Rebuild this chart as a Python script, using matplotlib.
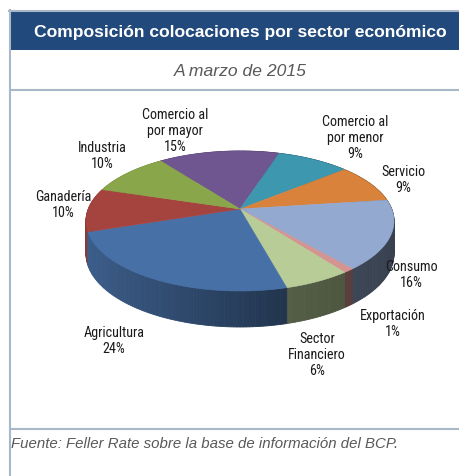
import matplotlib.pyplot as plt
import numpy as np
from matplotlib.patches import Polygon, Rectangle

# pie slices, clockwise from the top
sectors = ["Comercio al\npor mayor", "Comercio al\npor menor", "Servicio", "Consumo",
           "Exportación", "Sector\nFinanciero", "Agricultura", "Ganadería", "Industria"]
shares = [15, 9, 9, 16, 1, 6, 24, 10, 10]
colors = ["#6f5690", "#3d97ae", "#d8823b", "#93a9cf", "#d49491",
          "#b8cc97", "#4770a6", "#a5433f", "#8aa64b"]

title = "Composición colocaciones por sector económico"
subtitle = "A marzo de 2015"
source = "Fuente: Feller Rate sobre la base de información del BCP."

# layout (pixels)
W, H = 460, 477
label_xy = [(175, 131), (355, 138), (403, 180), (411, 275), (393, 324),
            (317, 355), (114, 341), (63, 205), (102, 156)]
CX, CY, RX, RY = 240, 222, 154, 70
TILT = -0.171      # perspective shift of the centre
START = -36.5      # degrees, clockwise from 12 o'clock
FRAME = "#a9b8c8"
NARROW = ["Roboto Condensed", "Liberation Sans", "DejaVu Sans"]


def project(theta, r=1.0, drop=0.0):
    t = np.radians(theta)
    u, v = r * np.sin(t), -r * np.cos(t)
    den = 1 + TILT * v
    x = CX + RX * u * np.sqrt(1 - TILT ** 2) / den
    y = CY + RY * (v + TILT) / den + drop * (32 + 4 * v)
    return x, y, u


def shade(hex_color, f):
    rgb = np.array([int(hex_color[i:i + 2], 16) for i in (1, 3, 5)]) / 255
    return tuple(np.clip(rgb * f, 0, 1))


fig = plt.figure(figsize=(W / 100, H / 100), dpi=100)
ax = fig.add_axes([0, 0, 1, 1])
ax.set_xlim(0, W)
ax.set_ylim(H, 0)
ax.axis("off")

# frame
ax.add_patch(Rectangle((10, 12), W - 10, 39, color="#22497c", lw=0))
ax.plot([9, W], [11.5, 11.5], color=FRAME, lw=1.5)
ax.plot([10, 10], [11, H], color=FRAME, lw=1.5)
ax.plot([10, W], [91, 91], color=FRAME, lw=1.5)
ax.plot([10, W], [430, 430], color=FRAME, lw=1.5)

ax.text(240, 32, title, color="white", fontsize=12.6, fontweight="bold",
        family=["Liberation Sans", "DejaVu Sans"], ha="center", va="center")
ax.text(240, 72, subtitle, color="#595959", fontsize=12.6, style="italic",
        family=["Liberation Sans", "DejaVu Sans"], ha="center", va="center")
ax.text(11, 444, source, color="#595959", fontsize=10.8, style="italic",
        family=["Liberation Sans", "DejaVu Sans"], ha="left", va="center")

bounds = START + 360 * np.concatenate([[0], np.cumsum(shares)]) / sum(shares)

# side wall, back to front
segs = []
for i, c in enumerate(colors):
    th = np.linspace(bounds[i], bounds[i + 1], max(3, int(bounds[i + 1] - bounds[i]) + 2))
    for a0, a1 in zip(th[:-1], th[1:]):
        segs.append((-np.cos(np.radians((a0 + a1) / 2)), a0, a1, c))
segs.sort(key=lambda s: s[0])
for _, a0, a1, c in segs:
    x0, y0, u0 = project(a0)
    x1, y1, u1 = project(a1)
    bx0, by0, _ = project(a0, drop=1)
    bx1, by1, _ = project(a1, drop=1)
    f = np.interp((u0 + u1) / 2, [-1, -0.3, 0.3, 1], [0.86, 0.65, 0.45, 0.38])
    col = shade(c, f)
    ax.add_patch(Polygon([(x0, y0), (x1, y1), (bx1, by1), (bx0, by0)],
                         closed=True, fc=col, ec=col, lw=0.6))

# top faces
cx0, cy0, _ = project(0, r=0)
for i, c in enumerate(colors):
    th = np.linspace(bounds[i], bounds[i + 1], 80)
    xs, ys, _ = project(th)
    pts = [(cx0, cy0)] + list(zip(xs, ys))
    ax.add_patch(Polygon(pts, closed=True, fc=c, ec=c, lw=0.4))

for name, val, (lx, ly) in zip(sectors, shares, label_xy):
    ax.text(lx, ly, f"{name}\n{val}%", ha="center", va="center", fontsize=10.2,
            family=NARROW, linespacing=1.15, color="#1a1a1a")

fig.savefig("out.png", dpi=100)
